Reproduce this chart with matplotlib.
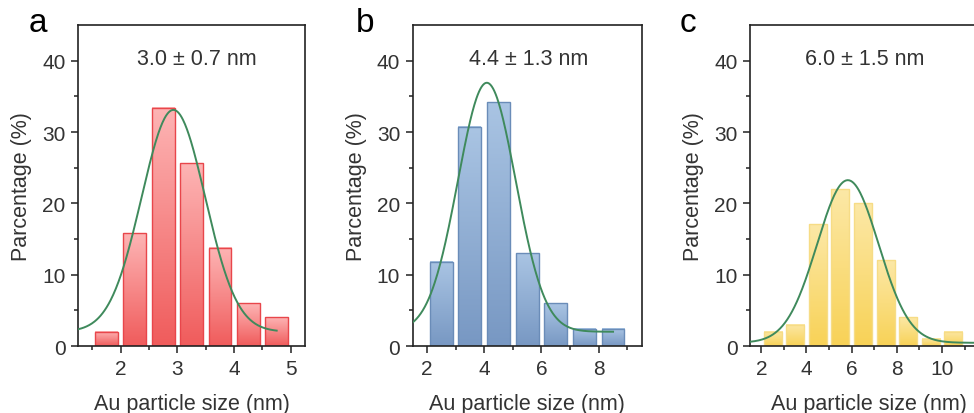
#! /usr/bin/env python3
# -*- coding: utf-8 -*-
"""
size distribution histograms of Au particles, three samples (a, b, c)
with gaussian fit curves
"""

import matplotlib
matplotlib.use("Agg")
import matplotlib.pyplot as plt
import matplotlib.colors as mcolors
import numpy as np

# -----------------------------------------------------------------------------

# font setup (Arial look-alike)
plt.rcParams['font.family'] = ['Liberation Sans', 'DejaVu Sans']
plt.rcParams['font.size'] = 15

# --- panel a ---
a_centers = [1.75, 2.25, 2.75, 3.25, 3.75, 4.25, 4.75]
a_percent = [2.0, 15.8, 33.4, 25.6, 13.8, 6.0, 4.0]
a_fit = dict(y0=2.0, amp=31.1, xc=2.93, sigma=0.56, xmin=1.25, xmax=4.75)

# --- panel b ---
b_centers = [2.5, 3.5, 4.5, 5.5, 6.5, 7.5, 8.5]
b_percent = [11.8, 30.7, 34.2, 13.0, 6.0, 2.4, 2.4]
b_fit = dict(y0=2.0, amp=34.9, xc=4.09, sigma=1.01, xmin=1.5, xmax=8.5)

# --- panel c ---
c_centers = [2.5, 3.5, 4.5, 5.5, 6.5, 7.5, 8.5, 9.5, 10.5]
c_percent = [2.0, 3.0, 17.1, 22.0, 20.0, 12.0, 4.0, 1.0, 2.0]
c_fit = dict(y0=0.45, amp=22.8, xc=5.83, sigma=1.36, xmin=1.5, xmax=12.0)

labels  = ['a', 'b', 'c']
annots  = ['3.0 ± 0.7 nm', '4.4 ± 1.3 nm', '6.0 ± 1.5 nm']

# -----------------------------------------------------------------------------

def GradientBars(ax, centers, heights, width, top, bottom, edge):
    """draw bars with a vertical colour gradient (light top, deep bottom)"""
    cmap = mcolors.LinearSegmentedColormap.from_list('g', [bottom, top])
    grad = np.linspace(0, 1, 64).reshape(-1, 1)
    for xc, h in zip(centers, heights):
        x0, x1 = xc - width / 2, xc + width / 2
        ax.imshow(grad, cmap=cmap, origin='lower', aspect='auto',
                  extent=(x0, x1, 0, h), zorder=1, interpolation='bilinear')
        ax.bar(xc, h, width=width, facecolor='none', edgecolor=edge,
               linewidth=1.0, zorder=2)


def FitCurve(ax, p):
    """gaussian fit line from the fit parameters"""
    x = np.linspace(p['xmin'], p['xmax'], 300)
    y = p['y0'] + p['amp'] * np.exp(-(x - p['xc'])**2 / (2 * p['sigma']**2))
    ax.plot(x, y, color='#3f8a5c', linewidth=1.4, zorder=3)


def StyleAxes(ax, xlim, xmajor, xminor):
    ax.set_xlim(*xlim)
    ax.set_ylim(0, 45)
    ax.set_xticks(xmajor)
    ax.set_xticks(xminor, minor=True)
    ax.set_yticks([0, 10, 20, 30, 40])
    ax.set_yticks([5, 15, 25, 35], minor=True)
    ax.tick_params(which='major', length=5, width=1.1, color='#222222',
                   labelcolor='#333333', labelsize=15, pad=4)
    ax.tick_params(which='minor', length=3, width=1.1, color='#222222')
    for s in ax.spines.values():
        s.set_linewidth(1.2)
        s.set_color('#222222')
    ax.set_xlabel('Au particle size (nm)', color='#333333', fontsize=15.5,
                  labelpad=11)
    ax.set_ylabel('Parcentage (%)', color='#333333', fontsize=15.5,
                  labelpad=7)

# -----------------------------------------------------------------------------

fig = plt.figure(figsize=(9.74, 4.14), dpi=100)

ax_a = fig.add_axes([0.0801, 0.1618, 0.2331, 0.7754])
ax_b = fig.add_axes([0.4237, 0.1618, 0.2351, 0.7754])
ax_c = fig.add_axes([0.7700, 0.1618, 0.2436, 0.7754])

GradientBars(ax_a, a_centers, a_percent, 0.4, '#fdb4b4', '#f05c5c', '#e8464b')
FitCurve(ax_a, a_fit)
StyleAxes(ax_a, (1.25, 5.25), [2, 3, 4, 5], [1.5, 2.5, 3.5, 4.5])

GradientBars(ax_b, b_centers, b_percent, 0.8, '#a9c4e3', '#7898c3', '#6a8cb8')
FitCurve(ax_b, b_fit)
StyleAxes(ax_b, (1.5, 9.5), [2, 4, 6, 8], [3, 5, 7, 9])

GradientBars(ax_c, c_centers, c_percent, 0.8, '#fce8a6', '#f8d257', '#f6dc86')
FitCurve(ax_c, c_fit)
StyleAxes(ax_c, (1.5, 12.0), [2, 4, 6, 8, 10], [3, 5, 7, 9, 11])

# annotations and panel letters
for ax, lab, txt, xf in zip([ax_a, ax_b, ax_c], labels, annots,
                            [0.524, 0.508, 0.485]):
    ax.text(xf, 0.897, txt, transform=ax.transAxes, ha='center',
            va='center', fontsize=15.5, color='#333333')

fig.text(38 / 974, 1 - 24 / 414, 'a', fontsize=24, ha='center', va='center')
fig.text(365 / 974, 1 - 24 / 414, 'b', fontsize=24, ha='center', va='center')
fig.text(688 / 974, 1 - 24 / 414, 'c', fontsize=24, ha='center', va='center')

fig.savefig('out.png', dpi=100)
